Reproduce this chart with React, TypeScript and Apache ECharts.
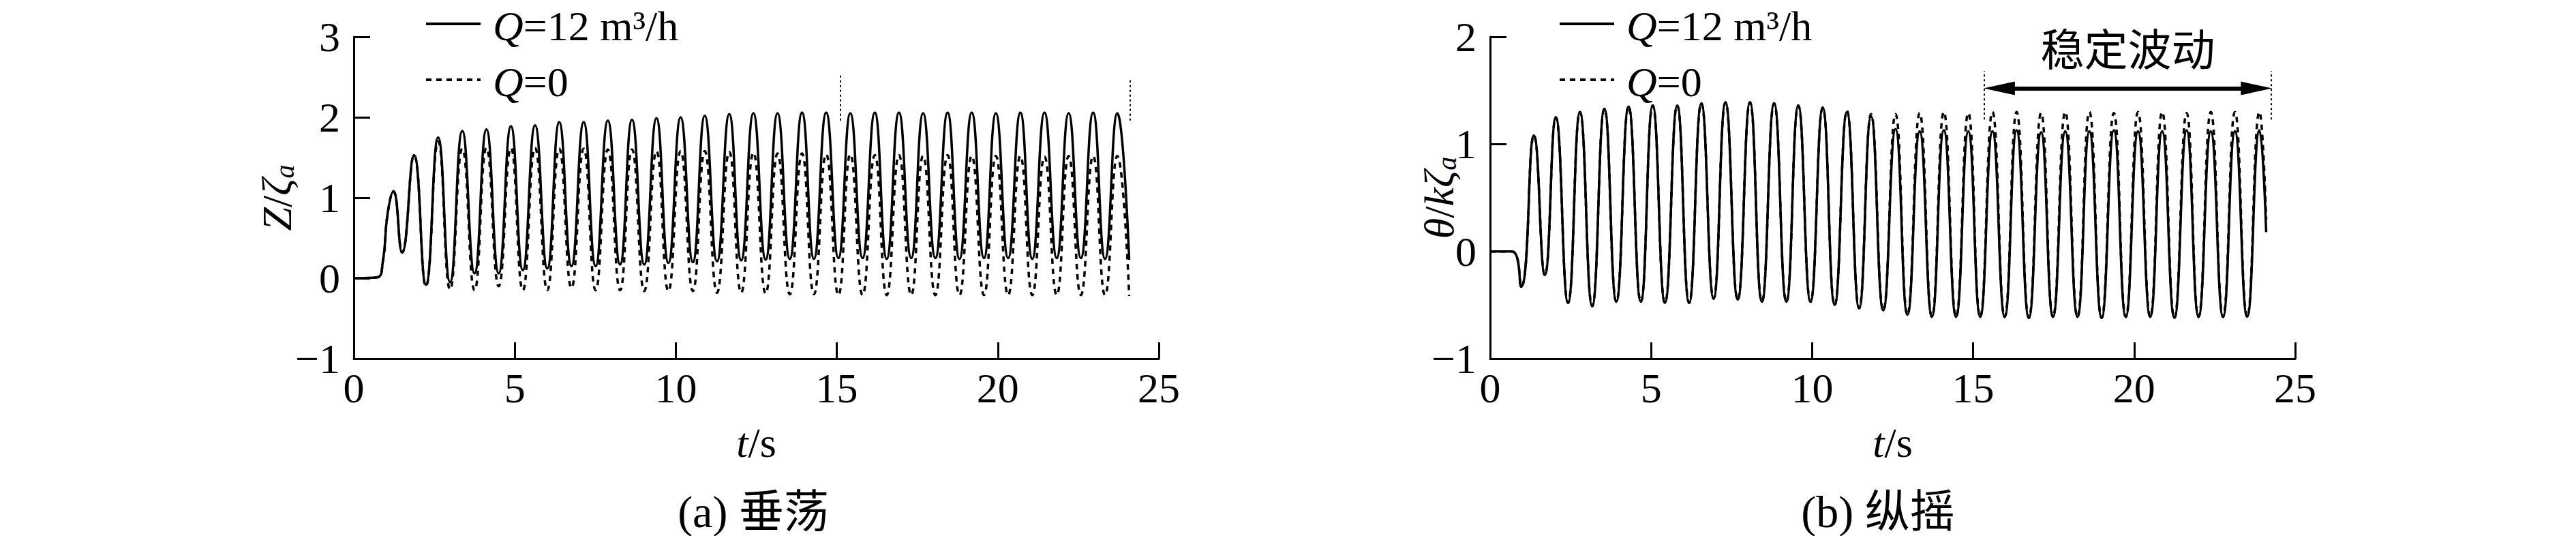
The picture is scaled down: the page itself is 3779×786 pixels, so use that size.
import React, { useEffect, useRef } from 'react';
import * as echarts from 'echarts';

const FONT = '"Liberation Serif", "Times New Roman", "Noto Sans CJK SC", serif';

// ---- axis ticks ----
const timeTicks = { min: 0, max: 25, interval: 5 };
const heaveTicks = { min: -1, max: 3, interval: 1 };
const pitchTicks = { min: -1, max: 2, interval: 1 };

// ---- (a) heave Z/ζa ----
const heaveStart = [[0, 0], [0.72, 0.01], [0.9, 0.2], [1.05, 0.8]];
const heavePeakT = [1.23, 1.87, 2.62, 3.37, 4.12, 4.88, 5.63, 6.38, 7.14, 7.89, 8.64, 9.40, 10.15, 10.90, 11.66, 12.41, 13.16, 13.92, 14.67, 15.42, 16.18, 16.93, 17.68, 18.44, 19.19, 19.94, 20.70, 21.45, 22.20, 22.96, 23.71];
const heaveTroughT = [1.50, 2.24, 2.99, 3.75, 4.50, 5.25, 6.01, 6.76, 7.51, 8.27, 9.02, 9.77, 10.53, 11.28, 12.03, 12.79, 13.54, 14.29, 15.05, 15.80, 16.55, 17.31, 18.06, 18.81, 19.57, 20.32, 21.07, 21.83, 22.58, 23.33, 24.08];
const heaveQ12Peak = [1.08, 1.53, 1.75, 1.83, 1.85, 1.89, 1.90, 1.94, 1.94, 1.96, 1.97, 1.99, 2.00, 2.02, 2.04, 2.05, 2.05, 2.06, 2.06, 2.05, 2.06, 2.06, 2.05, 2.06, 2.06, 2.05, 2.06, 2.06, 2.05, 2.06, 2.05];
const heaveQ12Trough = [0.32, -0.08, -0.05, 0.06, 0.06, 0.10, 0.12, 0.15, 0.15, 0.17, 0.17, 0.19, 0.20, 0.21, 0.22, 0.23, 0.24, 0.24, 0.25, 0.25, 0.24, 0.25, 0.25, 0.24, 0.25, 0.25, 0.24, 0.25, 0.25, 0.24, 0.23];
const heaveQ0Peak = [1.08, 1.53, 1.70, 1.61, 1.62, 1.62, 1.62, 1.61, 1.61, 1.60, 1.60, 1.58, 1.58, 1.58, 1.57, 1.56, 1.55, 1.55, 1.54, 1.54, 1.53, 1.53, 1.52, 1.53, 1.52, 1.52, 1.52, 1.51, 1.52, 1.52, 1.52];
const heaveQ0Trough = [0.32, -0.10, -0.14, -0.15, -0.10, -0.15, -0.15, -0.12, -0.15, -0.15, -0.16, -0.16, -0.16, -0.18, -0.18, -0.19, -0.20, -0.20, -0.21, -0.21, -0.21, -0.21, -0.21, -0.21, -0.21, -0.21, -0.21, -0.21, -0.21, -0.21, -0.22];
const heaveMarkT = [15.1, 24.1];
const heaveMarkY = [[1.96, 2.55], [1.96, 2.49]];

// ---- (b) pitch θ/kζa ----
const pitchStart = [[0, 0], [0.68, 0], [0.96, -0.33]];
const pitchPeakT = [1.36, 2.04, 2.79, 3.55, 4.30, 5.05, 5.81, 6.56, 7.31, 8.07, 8.82, 9.57, 10.33, 11.08, 11.83, 12.59, 13.34, 14.09, 14.85, 15.60, 16.35, 17.11, 17.86, 18.61, 19.37, 20.12, 20.87, 21.63, 22.38, 23.13, 23.89];
const pitchTroughT = [1.70, 2.42, 3.17, 3.92, 4.68, 5.43, 6.18, 6.94, 7.69, 8.44, 9.20, 9.95, 10.70, 11.46, 12.21, 12.96, 13.72, 14.47, 15.22, 15.98, 16.73, 17.48, 18.24, 18.99, 19.74, 20.50, 21.25, 22.00, 22.76, 23.51, 24.10];
const pitchQ12Peak = [1.08, 1.25, 1.30, 1.33, 1.35, 1.36, 1.36, 1.38, 1.39, 1.39, 1.38, 1.36, 1.34, 1.30, 1.26, 1.14, 1.12, 1.13, 1.12, 1.12, 1.13, 1.11, 1.12, 1.12, 1.13, 1.12, 1.12, 1.13, 1.12, 1.12, 1.13];
const pitchQ12Trough = [-0.22, -0.48, -0.51, -0.47, -0.47, -0.48, -0.48, -0.44, -0.45, -0.47, -0.47, -0.47, -0.50, -0.53, -0.55, -0.59, -0.61, -0.61, -0.61, -0.61, -0.62, -0.61, -0.61, -0.62, -0.61, -0.61, -0.62, -0.61, -0.61, -0.61, 0.18];
const pitchQ0Peak = [1.08, 1.25, 1.30, 1.33, 1.35, 1.36, 1.36, 1.38, 1.39, 1.39, 1.38, 1.36, 1.34, 1.31, 1.28, 1.28, 1.29, 1.30, 1.29, 1.30, 1.30, 1.29, 1.30, 1.30, 1.29, 1.30, 1.30, 1.29, 1.30, 1.30, 1.30];
const pitchQ0Trough = [-0.22, -0.48, -0.51, -0.47, -0.47, -0.48, -0.48, -0.44, -0.45, -0.47, -0.47, -0.47, -0.50, -0.53, -0.55, -0.59, -0.61, -0.61, -0.61, -0.61, -0.62, -0.61, -0.61, -0.62, -0.61, -0.61, -0.62, -0.61, -0.61, -0.61, 0.30];
const pitchMarkT = [15.35, 24.25];
const pitchMarkY = [1.23, 1.68];
const pitchArrow = { from: 15.81, to: 23.8, y: 1.52, label: '稳定波动' };

// ---- texts ----
const legendLabels = ['{i|Q}=12 m³/h', '{i|Q}=0'];
const panelTitles = ['(a) 垂荡', '(b) 纵摇'];
const xName = '{i|t}/s';
const yNames = ['{i|Z}/{i|ζ}{s|a}', '{i|θ}/{i|k}{i|ζ}{s|a}'];

function build(start: number[][], pt: number[], pv: number[], tt: number[], tv: number[]) {
  const out: number[][] = start.map((p) => [p[0], p[1]]);
  for (let i = 0; i < pt.length; i++) {
    out.push([pt[i], pv[i]]);
    out.push([tt[i], tv[i]]);
  }
  return out;
}

const FS = 62;
const rich = {
  i: { fontStyle: 'italic', fontFamily: FONT, fontSize: FS, color: '#000' },
  s: { fontStyle: 'italic', fontFamily: FONT, fontSize: 40, color: '#000', verticalAlign: 'bottom', lineHeight: 40 },
};

export default function App() {
  const ref = useRef<HTMLDivElement>(null);
  useEffect(() => {
    if (!ref.current) return;
    const chart = echarts.init(ref.current, undefined, { renderer: 'svg' });

    const xAxisBase = (gridIndex: number) => ({
      type: 'value',
      gridIndex,
      ...timeTicks,
      axisLine: { show: true, onZero: false, lineStyle: { color: '#000', width: 3 } },
      axisTick: { show: true, inside: true, length: 24, lineStyle: { color: '#000', width: 3 } },
      axisLabel: { color: '#000', fontSize: FS, fontFamily: FONT, margin: 12 },
      splitLine: { show: false },
      name: xName,
      nameLocation: 'middle',
      nameGap: 92,
      nameMoveOverlap: false,
      nameTextStyle: { color: '#000', fontSize: FS, fontFamily: FONT, rich },
    });
    const yAxisBase = (gridIndex: number, ticks: any, name: string, gap: number) => ({
      type: 'value',
      gridIndex,
      ...ticks,
      axisLine: { show: true, onZero: false, lineStyle: { color: '#000', width: 3 } },
      axisTick: { show: true, inside: true, length: 24, lineStyle: { color: '#000', width: 3 } },
      axisLabel: {
        color: '#000', fontSize: FS, fontFamily: FONT, margin: 20,
        formatter: (v: number) => String(v).replace('-', '−'),
      },
      splitLine: { show: false },
      name,
      nameLocation: 'middle',
      nameRotate: 90,
      nameGap: gap,
      nameMoveOverlap: false,
      nameTextStyle: { color: '#000', fontSize: FS, fontFamily: FONT, rich },
    });

    const solid = { color: '#000', width: 3.5, type: 'solid' };
    const dashed = { color: '#000', width: 3.5, type: [8, 7] };
    const dotted = { color: '#000', width: 2, type: [3, 4] };

    const legendGraphic = (x0: number) => [
      { type: 'line', shape: { x1: x0, y1: 35, x2: x0 + 80, y2: 35 }, style: { stroke: '#000', lineWidth: 4 } },
      { type: 'text', x: x0 + 98, y: 38, style: { text: legendLabels[0], fill: '#000', font: `${FS}px ${FONT}`, verticalAlign: 'middle', rich } },
      { type: 'line', shape: { x1: x0, y1: 117, x2: x0 + 80, y2: 117 }, style: { stroke: '#000', lineWidth: 4, lineDash: [8, 7] } },
      { type: 'text', x: x0 + 98, y: 120, style: { text: legendLabels[1], fill: '#000', font: `${FS}px ${FONT}`, verticalAlign: 'middle', rich } },
    ];

    const option: any = {
      animation: false,
      backgroundColor: '#fff',
      grid: [
        { left: 519, top: 54, width: 1181, height: 472, containLabel: false, outerBoundsMode: 'none' },
        { left: 2186, top: 54, width: 1181, height: 472, containLabel: false, outerBoundsMode: 'none' },
      ],
      xAxis: [xAxisBase(0), xAxisBase(1)],
      yAxis: [
        yAxisBase(0, heaveTicks, yNames[0], 82),
        yAxisBase(1, pitchTicks, yNames[1], 44),
      ],
      series: [
        {
          type: 'line', xAxisIndex: 0, yAxisIndex: 0, name: 'Q=12',
          data: build(heaveStart, heavePeakT, heaveQ12Peak, heaveTroughT, heaveQ12Trough),
          smooth: 0.5, showSymbol: false, symbol: 'none', lineStyle: solid,
          markLine: {
            silent: true, symbol: 'none', label: { show: false }, lineStyle: dotted,
            data: heaveMarkT.map((t, i) => [{ coord: [t, heaveMarkY[i][0]] }, { coord: [t, heaveMarkY[i][1]] }]),
          },
        },
        {
          type: 'line', xAxisIndex: 0, yAxisIndex: 0, name: 'Q=0',
          data: build(heaveStart, heavePeakT, heaveQ0Peak, heaveTroughT, heaveQ0Trough),
          smooth: 0.5, showSymbol: false, symbol: 'none', lineStyle: dashed,
        },
        {
          type: 'line', xAxisIndex: 1, yAxisIndex: 1, name: 'Q=12 b',
          data: build(pitchStart, pitchPeakT, pitchQ12Peak, pitchTroughT, pitchQ12Trough),
          smooth: 0.5, showSymbol: false, symbol: 'none', lineStyle: solid,
          markLine: {
            silent: true, symbol: 'none', label: { show: false }, lineStyle: dotted,
            data: [
              ...pitchMarkT.map((t) => [{ coord: [t, pitchMarkY[0]] }, { coord: [t, pitchMarkY[1]] }]),
              [
                {
                  coord: [pitchArrow.from, pitchArrow.y], symbol: 'triangle', symbolSize: [20, 46],
                  lineStyle: { type: 'solid', width: 6, color: '#000' },
                  label: {
                    show: true, position: 'middle', formatter: pitchArrow.label, color: '#000',
                    fontSize: 64, fontFamily: '"Noto Sans CJK SC", sans-serif', distance: 30,
                  },
                },
                { coord: [pitchArrow.to, pitchArrow.y], symbol: 'triangle', symbolSize: [20, 46] },
              ],
            ],
          },
        },
        {
          type: 'line', xAxisIndex: 1, yAxisIndex: 1, name: 'Q=0 b',
          data: build(pitchStart, pitchPeakT, pitchQ0Peak, pitchTroughT, pitchQ0Trough),
          smooth: 0.5, showSymbol: false, symbol: 'none', lineStyle: dashed,
        },
      ],
      graphic: [
        ...legendGraphic(625),
        ...legendGraphic(2288),
        { type: 'text', x: 1105, y: 750, style: { text: panelTitles[0], fill: '#000', font: `66px ${FONT}`, align: 'center', verticalAlign: 'middle' } },
        { type: 'text', x: 2755, y: 750, style: { text: panelTitles[1], fill: '#000', font: `66px ${FONT}`, align: 'center', verticalAlign: 'middle' } },
      ],
    };
    chart.setOption(option);
    return () => chart.dispose();
  }, []);
  return <div ref={ref} style={{ position: 'absolute', left: 0, top: 0, width: 3779, height: 786, background: '#fff' }} />;
}
